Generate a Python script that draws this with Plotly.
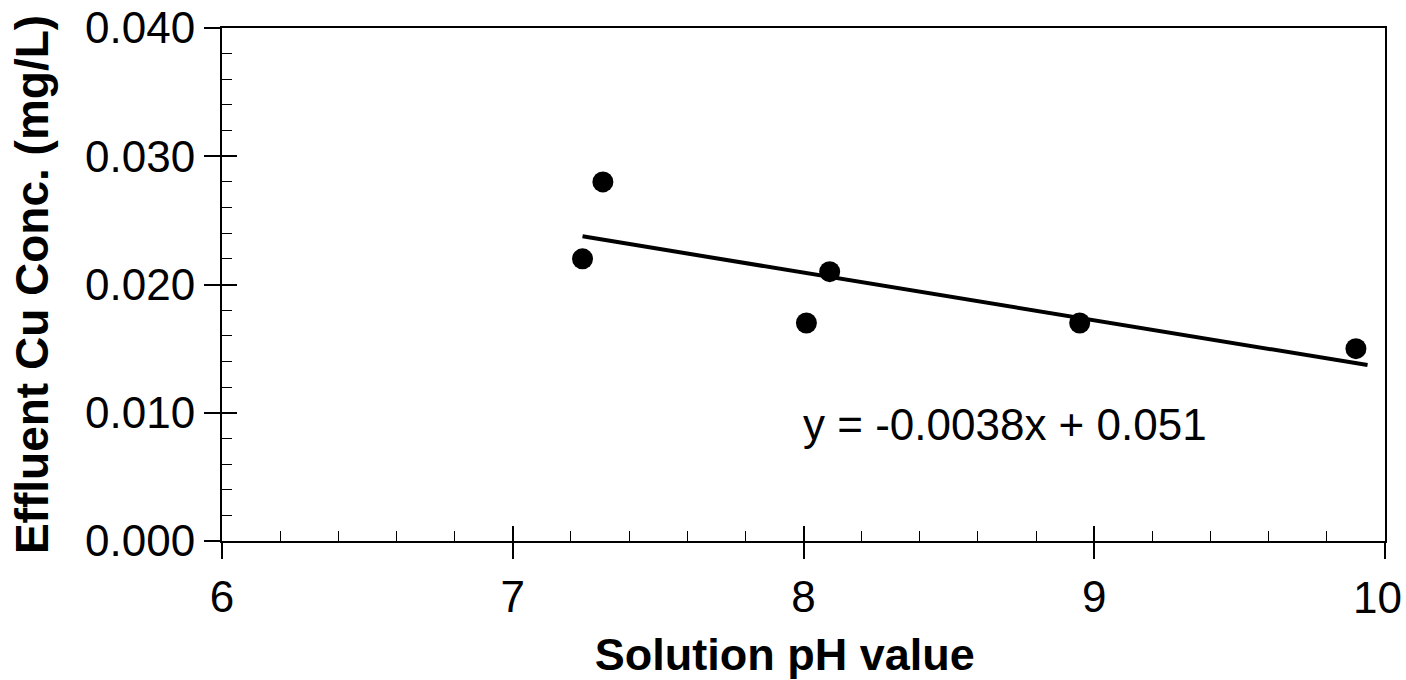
import numpy as np
import plotly.graph_objects as go

# Data
ph_values = [7.24, 7.31, 8.01, 8.09, 8.95, 9.90]
cu_conc = [0.022, 0.028, 0.017, 0.021, 0.017, 0.015]
trend_x = [7.24, 9.94]
equation_text = "y = -0.0038x + 0.051"
x_ticks = [6, 7, 8, 9, 10]
x_tick_labels = ["6", "7", "8", "9", ""]
last_x_tick_label = "10"
y_ticks = [0.000, 0.010, 0.020, 0.030, 0.040]

slope, intercept = np.polyfit(ph_values, cu_conc, 1)
trend_y = [slope * v + intercept for v in trend_x]

FONT = "Liberation Sans, Arial, sans-serif"

fig = go.Figure()
fig.add_trace(go.Scatter(x=trend_x, y=trend_y, mode="lines",
                         line=dict(color="black", width=4), showlegend=False,
                         hoverinfo="skip"))
fig.add_trace(go.Scatter(x=ph_values, y=cu_conc, mode="markers",
                         marker=dict(color="black", size=21), showlegend=False))
# empty trace to register the overlay axes (inside ticks)
fig.add_trace(go.Scatter(x=[], y=[], xaxis="x2", yaxis="y2", showlegend=False))

fig.add_annotation(x=7.99, y=0.0091, xref="x", yref="y", text=equation_text,
                   showarrow=False, xanchor="left", yanchor="middle",
                   font=dict(family=FONT, size=44, color="black"))
# last x tick label, nudged left so it stays inside the page (as in the reference)
fig.add_annotation(x=x_ticks[-1], y=0, xref="x", yref="paper", text=last_x_tick_label,
                   showarrow=False, xanchor="center", yanchor="top",
                   xshift=-8, yshift=-30,
                   font=dict(family=FONT, size=44, color="black"))

fig.update_layout(
    width=1406, height=680,
    margin=dict(l=222, r=21, t=28, b=139),
    paper_bgcolor="white", plot_bgcolor="white",
    font=dict(family=FONT, color="black"),
    xaxis=dict(range=[6, 10], tickvals=x_ticks, ticktext=x_tick_labels,
               ticks="outside", ticklen=16, tickwidth=1.5, tickcolor="black",
               showline=True, linecolor="black", linewidth=2, mirror=True,
               showgrid=False, zeroline=False, automargin=False,
               ticklabeloverflow="allow",
               tickfont=dict(family=FONT, size=44, color="black"),
               title=dict(text="<b>Solution pH value</b>&nbsp;&nbsp;&nbsp;", standoff=27,
                          font=dict(family=FONT, size=45, color="black"))),
    yaxis=dict(range=[0, 0.04], tickvals=y_ticks, tickformat=".3f",
               ticks="outside", ticklen=16, tickwidth=1.5, tickcolor="black",
               showline=True, linecolor="black", linewidth=2, mirror=True,
               showgrid=False, zeroline=False, automargin=False,
               ticklabeloverflow="allow",
               tickfont=dict(family=FONT, size=44, color="black"),
               title=dict(text="<b>Effluent Cu Conc. (mg/L)</b>", standoff=22,
                          font=dict(family=FONT, size=46, color="black"))),
    xaxis2=dict(range=[6, 10], overlaying="x", anchor="y2", side="bottom",
                tickvals=x_ticks, ticks="inside", ticklen=15, tickwidth=1.5,
                tickcolor="black", showticklabels=False, showgrid=False,
                zeroline=False, showline=False, automargin=False,
                minor=dict(dtick=0.2, ticks="inside", ticklen=10, tickwidth=1.2,
                           tickcolor="black", showgrid=False)),
    yaxis2=dict(range=[0, 0.04], overlaying="y", anchor="x2", side="left",
                tickvals=y_ticks, ticks="inside", ticklen=15, tickwidth=1.5,
                tickcolor="black", showticklabels=False, showgrid=False,
                zeroline=False, showline=False, automargin=False,
                minor=dict(dtick=0.002, ticks="inside", ticklen=10, tickwidth=1.2,
                           tickcolor="black", showgrid=False)),
)

fig.write_html("out.html")
